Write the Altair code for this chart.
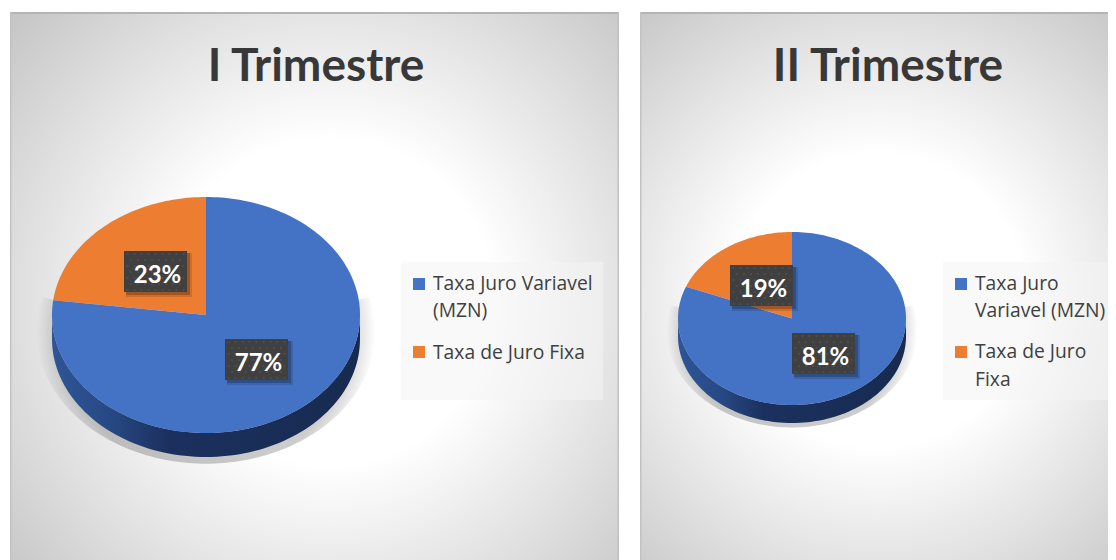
import math
import altair as alt
import pandas as pd

# ---- chart values ----
TITLES = ["I Trimestre", "II Trimestre"]
CATEGORIES = ["Taxa Juro Variavel (MZN)", "Taxa de Juro Fixa"]
SHARES_Q1 = [77, 23]
SHARES_Q2 = [81, 19]
LEGEND_LINES_Q1 = [["Taxa Juro Variavel", "(MZN)"], ["Taxa de Juro Fixa"]]
LEGEND_LINES_Q2 = [["Taxa Juro", "Variavel (MZN)"], ["Taxa de Juro", "Fixa"]]
COLORS = ["#4472C4", "#ED7D31"]

# ---- layout (page pixels) ----
Q1 = dict(x0=10, x1=619, gx=0.525, cx=206, cy=315, rx=154, ry=118, depth=24, title_x=316,
          boxes=[(225, 339), (124, 251)],
          legend=dict(x0=401, x1=603, y0=262, y1=400, sq=413, tx=433,
                      sy=[284, 352], ty=[[284, 311], [353]]))
Q2 = dict(x0=640, x1=1108, gx=0.508, cx=792, cy=318.5, rx=114, ry=86.5, depth=18, title_x=888,
          boxes=[(792, 333), (730, 265)],
          legend=dict(x0=943, x1=1108, y0=262, y1=400, sq=955, tx=975,
                      sy=[284, 352], ty=[[284, 311], [352, 380]]))
Y0, Y1 = 12, 560
FONT = "Lato"
LEGEND_FONT = "Open Sans"


def arc_pts(p, a0, a1, dy=0.0, n=90):
    pts = []
    for k in range(n + 1):
        a = math.radians(a0 + (a1 - a0) * k / n)
        pts.append((p["cx"] + p["rx"] * math.sin(a), p["cy"] + dy - p["ry"] * math.cos(a)))
    return pts


def poly_df(pts):
    return pd.DataFrame({"x": [q[0] for q in pts], "y": [q[1] for q in pts], "i": range(len(pts))})


def panel(p, title, shares, lines):
    sx = alt.Scale(domain=[p["x0"], p["x1"]], nice=False, zero=False)
    sy = alt.Scale(domain=[Y1, Y0], nice=False, zero=False)
    X = alt.X("x:Q", scale=sx, axis=None)
    Y = alt.Y("y:Q", scale=sy, axis=None)

    def rect(x0, x1, y0, y1, **mk):
        d = pd.DataFrame({"x": [x0], "x2": [x1], "y": [y0], "y2": [y1]})
        return alt.Chart(d).mark_rect(**mk).encode(x=X, x2="x2:Q", y=Y, y2="y2:Q")

    def poly(pts, **mk):
        return alt.Chart(poly_df(pts)).mark_line(strokeWidth=0, **mk).encode(
            x=X, y=Y, order=alt.Order("i:Q"))

    bg = rect(p["x0"], p["x1"], Y0, Y1, fill={
        "gradient": "radial", "x1": p["gx"], "y1": 0.526, "r1": 0, "x2": p["gx"], "y2": 0.526, "r2": 0.74,
        "stops": [{"offset": 0, "color": "#ffffff"}, {"offset": 0.36, "color": "#ffffff"},
                  {"offset": 0.68, "color": "#e0e0e0"}, {"offset": 1, "color": "#c0c0c0"}]})
    top_edge = rect(p["x0"], p["x1"], Y0, Y0 + 2, fill="#b4b4b4")
    left_edge = rect(p["x0"], p["x0"] + 1.5, Y0, Y1, fill="#c2c2c2")
    right_edge = rect(p["x1"] - 1.5, p["x1"], Y0, Y1, fill="#c2c2c2")

    layers = [bg, top_edge, left_edge]
    if p is Q1:
        layers.append(right_edge)

    # soft shadow under the pie: the lower part of an ellipse; the zero-width
    # spike to its top keeps the gradient's bounding box that of the whole ellipse
    sh = dict(p)
    sh.update(cy=p["cy"] + p["ry"] * 0.14, rx=p["rx"] * 1.10, ry=p["ry"] * 1.12)
    sh_pts = arc_pts(sh, 75, 285, n=140) + [(sh["cx"], sh["cy"]), (sh["cx"], sh["cy"] - sh["ry"]),
                                            (sh["cx"], sh["cy"])]
    layers.append(poly(sh_pts, fill={
        "gradient": "radial", "x1": 0.5, "y1": 0.5, "r1": 0, "x2": 0.5, "y2": 0.5, "r2": 0.5,
        "stops": [{"offset": 0, "color": "rgba(0,0,0,0.24)"}, {"offset": 0.84, "color": "rgba(0,0,0,0.20)"},
                  {"offset": 1, "color": "rgba(0,0,0,0)"}]}))

    # pie side wall
    side = arc_pts(p, 90, 270) + arc_pts(p, 270, 90, dy=p["depth"])
    layers.append(poly(side, fill={
        "gradient": "linear", "x1": 0, "y1": 0, "x2": 1, "y2": 0,
        "stops": [{"offset": 0, "color": "#2f5597"}, {"offset": 0.18, "color": "#274a85"},
                  {"offset": 0.38, "color": "#1b305e"}, {"offset": 1, "color": "#172b50"}]}))

    # pie slices, clockwise from twelve o'clock: the second category first
    a = shares[1] / sum(shares) * 360
    centre = [(p["cx"], p["cy"])]
    layers.append(poly(centre + arc_pts(p, -a, 0, n=60), fill=COLORS[1]))
    layers.append(poly(centre + arc_pts(p, 0, 360 - a, n=200), fill=COLORS[0]))

    # data labels
    w, h = 63, 41
    for (bx, by), v in zip(p["boxes"], shares):
        layers.append(rect(bx + 2, bx + w + 5, by + 2, by + h + 5, fill="#000000", opacity=0.12))
        layers.append(rect(bx + 2, bx + w + 3, by + 2, by + h + 3, fill="#000000", opacity=0.22))
        layers.append(rect(bx, bx + w, by, by + h, fill="#404040"))
        dots = [(bx + 3.5 + 7 * i + (3.5 if j % 2 else 0), by + 3 + 6 * j)
                for i in range(9) for j in range(7)
                if bx + 3.5 + 7 * i + (3.5 if j % 2 else 0) < bx + w]
        layers.append(alt.Chart(poly_df(dots)).mark_circle(size=5, color="#5c5c5c", opacity=0.55).encode(x=X, y=Y))
        layers.append(alt.Chart(pd.DataFrame({"x": [bx + w / 2 + 2], "y": [by + h / 2 + 4], "t": [f"{v}%"]}))
                      .mark_text(font=FONT, fontSize=24, fontWeight="bold", color="#ffffff", baseline="middle")
                      .encode(x=X, y=Y, text="t:N"))

    # title
    layers.append(alt.Chart(pd.DataFrame({"x": [p["title_x"]], "y": [81], "t": [title]}))
                  .mark_text(font=FONT, fontSize=46, fontWeight="bold", color="#383838", baseline="alphabetic")
                  .encode(x=X, y=Y, text="t:N"))

    # legend
    lg = p["legend"]
    layers.append(rect(lg["x0"], lg["x1"], lg["y0"], lg["y1"], fill="#f4f4f4", opacity=0.55))
    for k, col in enumerate(COLORS):
        layers.append(rect(lg["sq"], lg["sq"] + 12, lg["sy"][k] - 6, lg["sy"][k] + 6, fill=col))
        d = pd.DataFrame({"x": lg["tx"], "y": lg["ty"][k], "t": lines[k]})
        layers.append(alt.Chart(d).mark_text(font=LEGEND_FONT, fontSize=19.3, color="#404040", align="left", baseline="middle")
                      .encode(x=X, y=Y, text="t:N"))

    return alt.layer(*layers).properties(width=p["x1"] - p["x0"], height=Y1 - Y0)


chart = alt.hconcat(
    panel(Q1, TITLES[0], SHARES_Q1, LEGEND_LINES_Q1),
    panel(Q2, TITLES[1], SHARES_Q2, LEGEND_LINES_Q2),
    spacing=21,
).properties(
    padding={"left": 2, "top": 4, "right": 0, "bottom": 0}, background="#ffffff",
).configure_view(stroke=None)

chart.save("out.html", embed_options={"renderer": "svg", "actions": False})
